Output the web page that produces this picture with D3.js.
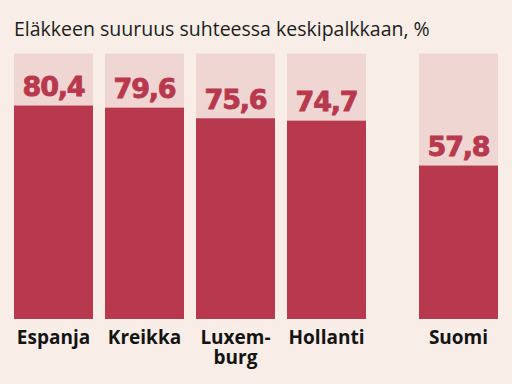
<!DOCTYPE html>
<html lang="fi">
<head>
  <meta charset="UTF-8">
  <title>Eläkkeen suuruus</title>
  <script src="https://d3js.org/d3.v7.min.js"></script>
  <style>
    body { margin: 0; background: #f9eee7; }
    svg { display: block; }
    .title { font-family: "Open Sans", sans-serif; font-size: 19.5px; fill: #1c1c1c; }
    .value { font-family: "DejaVu Sans", sans-serif; font-weight: bold; font-size: 27px; letter-spacing: -1.2px;
             fill: #b8394d; stroke: #b8394d; stroke-width: 0.9px; text-anchor: middle; }
    .cat text { font-family: "Open Sans", sans-serif; font-weight: bold; font-size: 19px; fill: #141414; }
  </style>
</head>
<body>
  <div id="chart"></div>
  <script>
    const countries = ["Espanja", "Kreikka", "Luxemburg", "Hollanti", "Suomi"];
    const labels = ["Espanja", "Kreikka", "Luxem-|burg", "Hollanti", "Suomi"];
    const values = [80.4, 79.6, 75.6, 74.7, 57.8];
    const maxValue = 100;

    const W = 512, H = 384;
    const margin = {top: 53.5, right: 14, bottom: 319, left: 14};
    const groupGap = 41; // extra space before Suomi

    const svg = d3.select("#chart").append("svg")
      .attr("width", W).attr("height", H);

    svg.append("rect").attr("width", W).attr("height", H).attr("fill", "#f9eee7");

    svg.append("text").attr("class", "title")
      .attr("x", margin.left).attr("y", 36)
      .text("Eläkkeen suuruus suhteessa keskipalkkaan, %");

    const x = d3.scaleBand()
      .domain(countries)
      .range([margin.left, W - margin.right - groupGap])
      .paddingInner(12 / 91)
      .paddingOuter(0);
    const xPos = d => x(d) + (d === "Suomi" ? groupGap : 0);

    const y = d3.scaleLinear().domain([0, maxValue]).range([margin.bottom, margin.top]);

    const fmt = d3.formatLocale({decimal: ",", thousands: " ", grouping: [3], currency: ["", "€"]}).format(".1f");

    const data = countries.map((c, i) => ({name: c, label: labels[i], value: values[i]}));

    svg.selectAll(".bg").data(data).join("rect")
      .attr("class", "bg")
      .attr("x", d => xPos(d.name))
      .attr("width", x.bandwidth())
      .attr("y", y(maxValue))
      .attr("height", y(0) - y(maxValue))
      .attr("fill", "#f0d6d3");

    svg.selectAll(".bar").data(data).join("rect")
      .attr("class", "bar")
      .attr("x", d => xPos(d.name))
      .attr("width", x.bandwidth())
      .attr("y", d => y(d.value))
      .attr("height", d => y(0) - y(d.value))
      .attr("fill", "#b8394d");

    svg.selectAll(".value").data(data).join("text")
      .attr("class", "value")
      .attr("x", d => xPos(d.name) + x.bandwidth() / 2)
      .attr("y", d => y(d.value) - 9.5)
      .text(d => fmt(d.value));

    const cats = svg.append("g").attr("class", "cat");
    cats.selectAll("text").data(data).join("text")
      .attr("text-anchor", "middle")
      .attr("x", d => xPos(d.name) + x.bandwidth() / 2)
      .attr("y", 344)
      .each(function(d) {
        const t = d3.select(this);
        d.label.split("|").forEach((line, i) => {
          t.append("tspan")
            .attr("x", xPos(d.name) + x.bandwidth() / 2)
            .attr("dy", i === 0 ? 0 : 19.5)
            .text(line);
        });
      });
  </script>
</body>
</html>
